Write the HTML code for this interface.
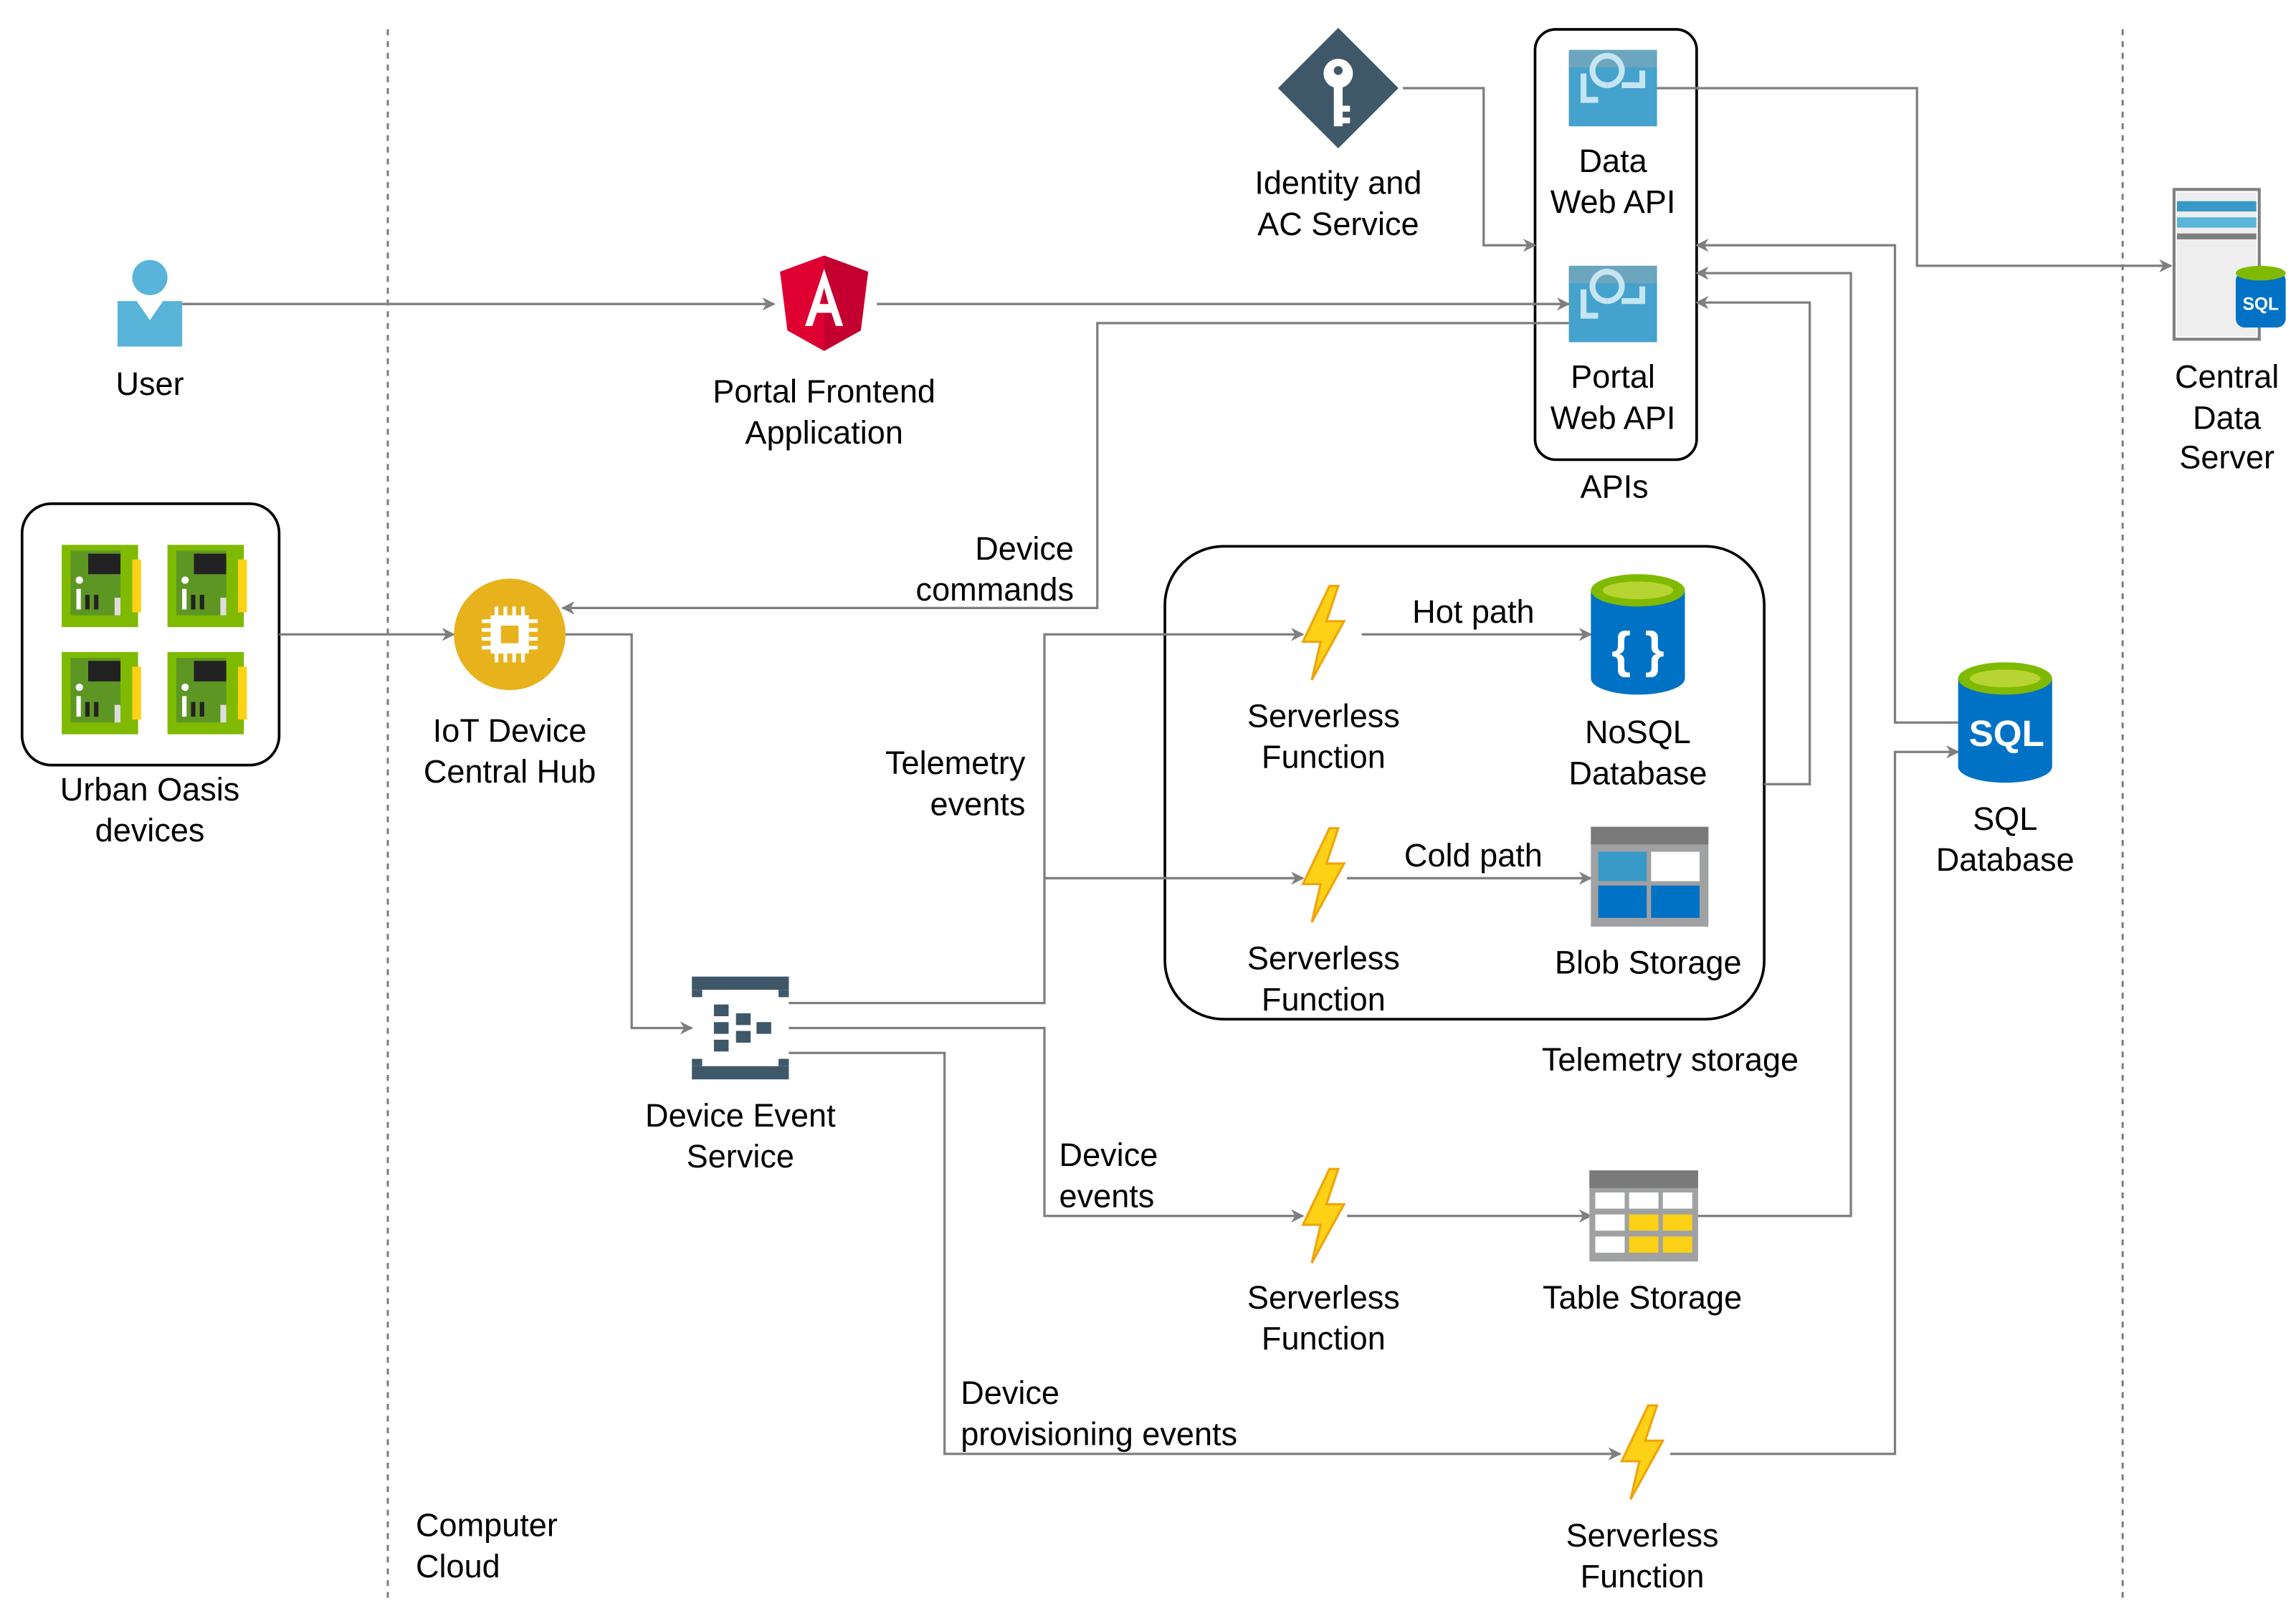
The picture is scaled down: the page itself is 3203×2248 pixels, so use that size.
<!DOCTYPE html>
<html><head><meta charset="utf-8"><style>
html,body{margin:0;padding:0;background:#fff;}
svg{display:block;}
text{font-family:"Liberation Sans",Arial,sans-serif;font-size:22px;fill:#000;}
.c{text-anchor:middle}.r{text-anchor:end}
.ln{fill:none;stroke:#7f7f7f;stroke-width:1.6}
</style></head><body>
<svg width="3203" height="2248" viewBox="0 0 1563 1097" xmlns="http://www.w3.org/2000/svg">
<defs>
<marker id="a" viewBox="0 0 10 10" refX="9" refY="5" markerWidth="9" markerHeight="9" markerUnits="userSpaceOnUse" orient="auto">
<path d="M0,0 L10,5 L0,10 L3,5 Z" fill="#7f7f7f"/></marker>
<g id="bolt"><path d="M4,-32 L-14,6 L-2,6 L-8,32 L14,-8 L2,-8 L10,-32 Z" fill="#fcd116" stroke="#f0a30a" stroke-width="1.5"/></g>
<g id="chip"><rect x="-26" y="-28" width="52" height="56" fill="#7fba00"/><rect x="-20" y="-24" width="34" height="44" fill="#5e9624"/><rect x="-8" y="-22" width="22" height="14" fill="#222"/><rect x="22" y="-18" width="6" height="36" fill="#fcd116"/><rect x="-16" y="2" width="3" height="14" fill="#fff"/><rect x="-10" y="6" width="3" height="10" fill="#222"/><rect x="-4" y="6" width="3" height="10" fill="#222"/><circle cx="-14" cy="-4" r="2.5" fill="#fff"/><rect x="10" y="8" width="4" height="12" fill="#ddd"/></g>
<g id="webapi"><rect x="-30" y="-26" width="60" height="52" fill="#3999c6"/><rect x="-30" y="-26" width="60" height="12" fill="#a0a1a2" opacity="0.6"/><path d="M-20,-10 v18 h10 M-4,-2 a10,10 0 1 1 0.1,0 M6,-2 h14 v-10" fill="none" stroke="#fff" stroke-width="4"/><path d="M-30,-26 h60 v52 h-60 z" fill="#59b4d9" opacity="0.35"/></g>
</defs>
<!-- dashed swimlanes -->
<line x1="264" y1="20" x2="264" y2="1092" stroke="#7f7f7f" stroke-width="1.5" stroke-dasharray="4,4"/>
<line x1="1445" y1="20" x2="1445" y2="1092" stroke="#7f7f7f" stroke-width="1.5" stroke-dasharray="4,4"/>

<!-- containers -->
<rect x="1045" y="20" width="110" height="293" rx="14" fill="none" stroke="#000" stroke-width="1.8"/>
<rect x="15" y="343" width="175" height="178" rx="20" fill="none" stroke="#000" stroke-width="1.8"/>
<rect x="793" y="372" width="408" height="322" rx="40" fill="none" stroke="#000" stroke-width="1.8"/>

<!-- connectors -->
<path class="ln" d="M124,207 H527" marker-end="url(#a)"/>
<path class="ln" d="M597,207 H1068" marker-end="url(#a)"/>
<path class="ln" d="M955,60 H1010 V167 H1045" marker-end="url(#a)"/>
<path class="ln" d="M1128,60 H1305 V181 H1478" marker-end="url(#a)"/>
<path class="ln" d="M1068,220 H747 V414 H383" marker-end="url(#a)"/>
<path class="ln" d="M190,432 H309" marker-end="url(#a)"/>
<path class="ln" d="M385,432 H430 V700 H471" marker-end="url(#a)"/>
<path class="ln" d="M537,683 H711 V432 H887" marker-end="url(#a)"/>
<path class="ln" d="M711,598 H887" marker-end="url(#a)"/>
<path class="ln" d="M537,700 H711 V828 H887" marker-end="url(#a)"/>
<path class="ln" d="M537,717 H643 V990 H1103" marker-end="url(#a)"/>
<path class="ln" d="M927,432 H1083" marker-end="url(#a)"/>
<path class="ln" d="M917,598 H1083" marker-end="url(#a)"/>
<path class="ln" d="M917,828 H1083" marker-end="url(#a)"/>
<path class="ln" d="M1201,534 H1232 V206 H1155" marker-end="url(#a)"/>
<path class="ln" d="M1156,828 H1260 V186 H1155" marker-end="url(#a)"/>
<path class="ln" d="M1137,990 H1290 V512 H1333" marker-end="url(#a)"/>
<path class="ln" d="M1333,492 H1290 V167 H1155" marker-end="url(#a)"/>

<!-- User -->
<circle cx="102" cy="189" r="12" fill="#59b4d9"/>
<path d="M80,205 H93 L102,218 L111,205 H124 V236 H80 Z" fill="#59b4d9"/>
<text class="c" x="102" y="269">User</text>

<!-- Angular -->
<path d="M561,174 L591,185 L586,225 L561,239 L536,225 L531,185 Z" fill="#dd0031"/>
<path d="M561,174 L591,185 L586,225 L561,239 Z" fill="#c3002f"/>
<path d="M561,183 L548,222 H553 L556,213 H566 L569,222 H574 Z M558,207 L561,196 L564,207 Z" fill="#fff"/>
<text class="c" x="561" y="274">Portal Frontend</text><text class="c" x="561" y="302">Application</text>

<!-- Identity -->
<path d="M911,19 L952,60 L911,101 L870,60 Z" fill="#3e5869"/>
<circle cx="911" cy="50" r="10" fill="#fff"/><circle cx="911" cy="48" r="3" fill="#3e5869"/>
<path d="M908,58 h6 v28 h-6 z M914,72 h5 v4 h-5 z M914,80 h5 v4 h-5z" fill="#fff"/>
<text class="c" x="911" y="132">Identity and</text><text class="c" x="911" y="160">AC Service</text>

<!-- Web APIs -->
<use href="#webapi" x="1098" y="60"/>
<text class="c" x="1098" y="117">Data</text><text class="c" x="1098" y="145">Web API</text>
<use href="#webapi" x="1098" y="207"/>
<text class="c" x="1098" y="264">Portal</text><text class="c" x="1098" y="292">Web API</text>
<text class="c" x="1099" y="339">APIs</text>

<!-- Central Data Server -->
<rect x="1480" y="129" width="58" height="102" fill="#fff" stroke="#7f7f7f" stroke-width="2"/>
<rect x="1482" y="131" width="54" height="98" fill="#eee"/>
<rect x="1482" y="137" width="54" height="7" fill="#3999c6"/>
<rect x="1482" y="148" width="54" height="7" fill="#59b4d9"/>
<rect x="1482" y="159" width="54" height="4" fill="#7f7f7f"/>
<rect x="1522" y="185" width="34" height="38" rx="6" fill="#0072c6"/>
<ellipse cx="1539" cy="186" rx="17" ry="5" fill="#7fba00"/>
<text x="1539" y="211" class="c" style="font-size:12px;font-weight:bold;fill:#fff">SQL</text>
<text class="c" x="1516" y="264">Central</text><text class="c" x="1516" y="292">Data</text><text class="c" x="1516" y="319">Server</text>

<!-- Urban Oasis -->
<use href="#chip" x="68" y="399"/><use href="#chip" x="140" y="399"/>
<use href="#chip" x="68" y="472"/><use href="#chip" x="140" y="472"/>
<text class="c" x="102" y="545">Urban Oasis</text><text class="c" x="102" y="573">devices</text>

<!-- IoT hub -->
<circle cx="347" cy="432" r="38" fill="#e8b21d"/>
<rect x="334" y="419" width="26" height="26" fill="#fff"/><rect x="341" y="426" width="12" height="12" fill="#e8b21d"/>
<path d="M338,413 v6 M344,413 v6 M350,413 v6 M356,413 v6 M338,445 v6 M344,445 v6 M350,445 v6 M356,445 v6 M328,423 h6 M328,429 h6 M328,435 h6 M328,441 h6 M360,423 h6 M360,429 h6 M360,435 h6 M360,441 h6" stroke="#fff" stroke-width="2.5"/>
<text class="c" x="347" y="505">IoT Device</text><text class="c" x="347" y="533">Central Hub</text>

<!-- Device Event Service -->
<g fill="#3e5869">
<rect x="471" y="665" width="66" height="9"/><rect x="471" y="726" width="66" height="9"/>
<rect x="471" y="674" width="7" height="5"/><rect x="530" y="674" width="7" height="5"/>
<rect x="471" y="721" width="7" height="5"/><rect x="530" y="721" width="7" height="5"/>
<rect x="486" y="684" width="10" height="8"/><rect x="486" y="696" width="10" height="8"/><rect x="486" y="708" width="10" height="8"/>
<rect x="501" y="690" width="10" height="8"/><rect x="501" y="702" width="10" height="8"/><rect x="515" y="696" width="10" height="8"/>
</g>
<text class="c" x="504" y="767">Device Event</text><text class="c" x="504" y="795">Service</text>

<!-- connector labels -->
<text class="r" x="731" y="381">Device</text><text class="r" x="731" y="409">commands</text>
<text class="r" x="698" y="527">Telemetry</text><text class="r" x="698" y="555">events</text>
<text x="721" y="794">Device</text><text x="721" y="822">events</text>
<text x="654" y="956">Device</text><text x="654" y="984">provisioning events</text>
<text class="c" x="1003" y="424">Hot path</text>
<text class="c" x="1003" y="590">Cold path</text>

<!-- functions -->
<use href="#bolt" x="901" y="431"/>
<text class="c" x="901" y="495">Serverless</text><text class="c" x="901" y="523">Function</text>
<use href="#bolt" x="901" y="596"/>
<text class="c" x="901" y="660">Serverless</text><text class="c" x="901" y="688">Function</text>
<use href="#bolt" x="901" y="828"/>
<text class="c" x="901" y="891">Serverless</text><text class="c" x="901" y="919">Function</text>
<use href="#bolt" x="1118" y="989"/>
<text class="c" x="1118" y="1053">Serverless</text><text class="c" x="1118" y="1081">Function</text>

<!-- NoSQL -->
<path d="M1083,402 V462 A32,11 0 0 0 1147,462 V402 Z" fill="#0072c6"/>
<ellipse cx="1115" cy="402" rx="32" ry="11" fill="#7fba00"/>
<ellipse cx="1115" cy="402" rx="24" ry="6" fill="#b8d432"/>
<text class="c" x="1115" y="454" style="font-size:34px;font-weight:bold;fill:#fff">{ }</text>
<text class="c" x="1115" y="506">NoSQL</text><text class="c" x="1115" y="534">Database</text>

<!-- Blob -->
<rect x="1083" y="563" width="80" height="68" fill="#a0a1a2"/>
<rect x="1083" y="563" width="80" height="12" fill="#7a7a7a"/>
<rect x="1088" y="580" width="33" height="20" fill="#3999c6"/><rect x="1124" y="580" width="33" height="20" fill="#fff"/>
<rect x="1088" y="603" width="33" height="22" fill="#0072c6"/><rect x="1124" y="603" width="33" height="22" fill="#0072c6"/>
<text class="c" x="1122" y="663">Blob Storage</text>
<text class="c" x="1137" y="729">Telemetry storage</text>

<!-- Table -->
<rect x="1082" y="797" width="74" height="62" fill="#a0a1a2"/>
<rect x="1082" y="797" width="74" height="12" fill="#7a7a7a"/>
<g fill="#fff"><rect x="1086" y="812" width="20" height="11"/><rect x="1109" y="812" width="20" height="11"/><rect x="1132" y="812" width="20" height="11"/>
<rect x="1086" y="827" width="20" height="11"/><rect x="1086" y="842" width="20" height="11"/></g>
<g fill="#fcd116"><rect x="1109" y="827" width="20" height="11"/><rect x="1132" y="827" width="20" height="11"/><rect x="1109" y="842" width="20" height="11"/><rect x="1132" y="842" width="20" height="11"/></g>
<text class="c" x="1118" y="891">Table Storage</text>

<!-- SQL Database -->
<path d="M1333,462 V522 A32,11 0 0 0 1397,522 V462 Z" fill="#0072c6"/>
<ellipse cx="1365" cy="462" rx="32" ry="11" fill="#7fba00"/>
<ellipse cx="1365" cy="462" rx="24" ry="6" fill="#b8d432"/>
<text class="c" x="1366" y="508" style="font-size:25px;font-weight:bold;fill:#fff">SQL</text>
<text class="c" x="1365" y="565">SQL</text><text class="c" x="1365" y="593">Database</text>

<text x="283" y="1046">Computer</text><text x="283" y="1074">Cloud</text>
</svg>
</body></html>
